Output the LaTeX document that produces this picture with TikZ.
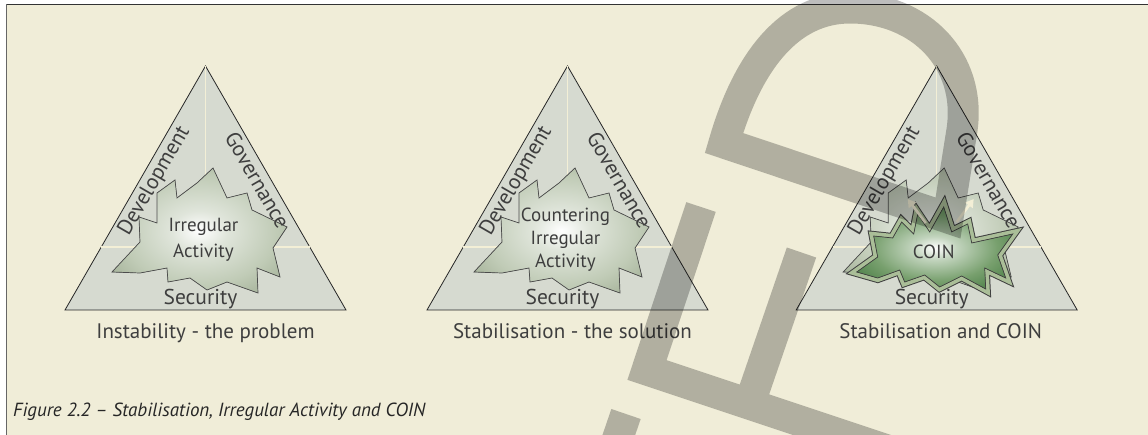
\documentclass[tikz,border=0pt]{standalone}
\usepackage{fontspec}
\setmainfont{PT Sans}
\usetikzlibrary{arrows.meta}

\definecolor{pagebg}{RGB}{240,237,216}
\definecolor{trifill}{RGB}{214,218,208}
\definecolor{creamline}{RGB}{243,239,214}
\definecolor{labelgray}{RGB}{62,62,62}
\definecolor{burstmid}{RGB}{192,203,182}
\definecolor{burstout}{RGB}{128,144,114}
\definecolor{coinmid}{RGB}{120,160,110}
\definecolor{coinout}{RGB}{40,100,40}
\definecolor{coinband}{RGB}{170,190,152}

\pgfdeclareradialshading{burstshade}{\pgfpoint{0bp}{0bp}}{color(0bp)=(white); color(8bp)=(burstmid!50!white); color(22bp)=(burstmid); color(44bp)=(burstout); color(50bp)=(burstout)}
\pgfdeclareradialshading{coinshade}{\pgfpoint{0bp}{0bp}}{color(0bp)=(white); color(7bp)=(coinmid!45!white); color(20bp)=(coinmid); color(40bp)=(coinout); color(50bp)=(coinout)}

% outlines, relative to the centre line of each triangle
\newcommand\tripath{(0,66) -- (-140.5,310) -- (140.5,310) -- cycle}
\newcommand\burstpath{(-93.5,272) -- (-65.5,242) -- (-66.5,217) -- (-48.5,223) -- (-48.5,193) -- (-30.5,180) -- (-28.5,198) -- (-8.5,183) -- (7.5,168) -- (21.5,198) -- (41.5,193) -- (46.5,210) -- (81.5,227) -- (67.5,248) -- (74.5,277) -- (51.5,268) -- (52.5,293) -- (21.5,282) -- (1.5,290) -- (-15.5,278) -- (-37.5,282) -- (-38.5,268) -- (-65.5,273) -- cycle}
\newcommand\coinpath{(-80,272) -- (-59,257) -- (-63,236) -- (-44,238) -- (-35,222) -- (-23,234) -- (-19,214) -- (-7,232) -- (7,207) -- (15,232) -- (31,224) -- (35,243) -- (76,234) -- (61,255) -- (69,278) -- (48,268) -- (49,289) -- (25,276) -- (3,287) -- (-12,275) -- (-32,282) -- (-37,270) -- (-59,278) -- cycle}

\begin{document}
\begin{tikzpicture}[x=1pt,y=-1pt,
  tri/.style={fill=trifill,draw=black!85,line width=0.8},
  divline/.style={draw=creamline,line width=1.4},
  burst/.style={shading=burstshade,draw=black!70,line width=0.7},
  lbl/.style={text=labelgray,inner sep=0,font=\fontsize{21.5}{25}\selectfont},
  inlbl/.style={text=labelgray,inner sep=0,align=center,font=\fontsize{19}{23}\selectfont},
  caplbl/.style={text=labelgray,inner sep=0,anchor=base,font=\fontsize{21}{25}\selectfont},
  coinarrow/.style={draw=creamline,line width=2.6,-{Triangle[length=8pt,width=9pt]}},
  wmark/.style={draw=black,draw opacity=0.26,line width=31,line join=miter}]

\useasboundingbox (0,0) rectangle (1148,435);
\fill[white] (0,0) rectangle (1148,435);
\fill[pagebg] (6.5,4.5) rectangle (1148,435);
\draw[black!80,line width=1.5] (6.5,4.5) -- (1148,4.5);
\draw[black!60,line width=1.5] (6.5,4.5) -- (6.5,435);

% Instability
\begin{scope}[shift={(205.5,0)}]
\filldraw[tri] \tripath;
\draw[divline] (-104.2,247) -- (104.2,247);
\draw[divline] (0,66) -- (0,247);
\filldraw[burst] \burstpath;
\node[lbl,rotate=60] (devA) at (-51,181) {Development};
\node[lbl,rotate=-60] (govA) at (52,180) {Governance};
\node[lbl,anchor=base] (secA) at (-5,305) {Security};
\node[inlbl] (irrA) at (-2,240) {Irregular\\[3pt]Activity};
\node[caplbl] (capA) at (0,338) {Instability - the problem};
\end{scope}

% Stabilisation
\begin{scope}[shift={(567.5,0)}]
\filldraw[tri] \tripath;
\draw[divline] (-104.2,247) -- (104.2,247);
\draw[divline] (0,66) -- (0,247);
\filldraw[burst] \burstpath;
\node[lbl,rotate=60] (devB) at (-51,181) {Development};
\node[lbl,rotate=-60] (govB) at (52,180) {Governance};
\node[lbl,anchor=base] (secB) at (-5,305) {Security};
\node[inlbl] (irrB) at (-2,240) {Countering\\Irregular\\Activity};
\node[caplbl] (capB) at (5,338) {Stabilisation - the solution};
\end{scope}

% Stabilisation and COIN
\begin{scope}[shift={(936.7,0)}]
\filldraw[tri] \tripath;
\draw[divline] (-104.2,247) -- (104.2,247);
\draw[divline] (0,66) -- (0,247);
\filldraw[burst] \burstpath;
\draw[black!75,line width=10] \coinpath;
\draw[coinband,line width=8] \coinpath;
\filldraw[shading=coinshade,draw=black!75,line width=0.7] \coinpath;
\coordinate (arL0) at (-11,223);
\coordinate (arL1) at (-29,199);
\coordinate (arR0) at (20,222);
\coordinate (arR1) at (37,199);
\draw[coinarrow] (arL0) -- (arL1);
\draw[coinarrow] (arR0) -- (arR1);
\node[lbl,rotate=60] (devC) at (-52,181) {Development};
\node[lbl,rotate=-60] (govC) at (52,180) {Governance};
\node[lbl,anchor=base] (secC) at (-5,305) {Security};
\node[inlbl] (coinC) at (-3,252) {COIN};
\node[caplbl] (capC) at (4,338) {Stabilisation and COIN};
\end{scope}

\node[anchor=base west,inner sep=0,text=black!85,font=\fontsize{19}{22}\selectfont\itshape] (figcap) at (13,416.5) {Figure 2.2 – Stabilisation, Irregular Activity and COIN};

% watermark
\begin{scope}
\clip (0,0) rectangle (1148,435);
\draw[wmark] (724,143) -- (948,218) -- (962,130) .. controls (972,60) and (920,8) .. (850,8) .. controls (790,8) and (748,60) .. cycle;
\draw[wmark] (701,207) -- (647,370) -- (893,452) (749.4,404.2) -- (801.5,252.5) (626,414) -- (600,490);
\end{scope}
\end{tikzpicture}
\end{document}
